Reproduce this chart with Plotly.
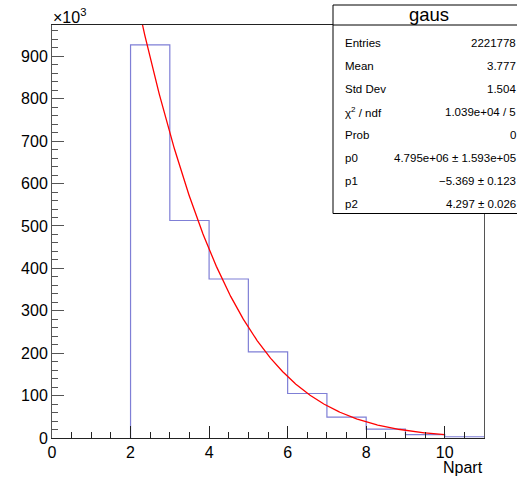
import numpy as np
import plotly.graph_objects as go

# Npart histogram: bin edges and counts (in units of 10^3)
bin_edges = [2, 3, 4, 5, 6, 7, 8, 9, 10, 11]
counts_k = [927, 513, 375, 203, 105, 49, 21, 8, 3]

# Gaussian fit parameters (fit range 2..10)
p0 = 4.795e6
p1 = -5.369
p2 = 4.297
fit_range = [2.0, 10.0]

# Statistics box rows
stat_labels = ["Entries", "Mean", "Std Dev", "χ<sup>2</sup> / ndf", "Prob", "p0", "p1", "p2"]
stat_values = ["2221778", "3.777", "1.504", "1.039e+04 / 5", "0",
               "4.795e+06 ± 1.593e+05", "−5.369 ± 0.123", "4.297 ± 0.026"]

x_ticks = [0, 2, 4, 6, 8, 10]
y_ticks = [0, 100, 200, 300, 400, 500, 600, 700, 800, 900]

FONT = "Liberation Sans, Arial, Helvetica, sans-serif"

# step outline of the histogram
hx = [bin_edges[0]] + bin_edges
hy = [0] + counts_k + [counts_k[-1]]

fx = np.linspace(fit_range[0], fit_range[1], 400)
fy = p0 * np.exp(-0.5 * ((fx - p1) / p2) ** 2) / 1e3

fig = go.Figure()
fig.add_trace(go.Scatter(x=hx, y=hy, mode="lines", line=dict(color="#7f7fd6", width=1.2, shape="hv"),
                         hoverinfo="skip"))
fig.add_trace(go.Scatter(x=fx, y=fy, mode="lines", line=dict(color="#ff0000", width=1.3),
                         hoverinfo="skip"))

# plot area geometry in pixels
L, R, T, B = 52, 484, 25, 438
W, H = 517, 479


def px_x(p):
    return (p - L) / (R - L)


def px_y(p):
    return (B - p) / (B - T)


fig.update_layout(
    width=W, height=H,
    margin=dict(l=L, r=W - R, t=T, b=H - B),
    paper_bgcolor="white", plot_bgcolor="white",
    showlegend=False,
    font=dict(family=FONT, color="black", size=16),
    xaxis=dict(range=[0, 11], tickvals=x_ticks, ticks="inside", ticklen=12, tickwidth=1,
               tickcolor="#222", showgrid=False, zeroline=False, showline=True,
               linecolor="#222", linewidth=1, mirror=True,
               minor=dict(dtick=0.5, ticks="inside", ticklen=6, tickcolor="#222"),
               tickfont=dict(size=16, family=FONT)),
    yaxis=dict(range=[0, 974], tickvals=y_ticks, ticks="inside", ticklen=12, tickwidth=1,
               tickcolor="#555", showgrid=False, zeroline=False, showline=True,
               linecolor="#555", linewidth=1, mirror=True,
               minor=dict(dtick=20, ticks="inside", ticklen=6, tickcolor="#555"),
               tickfont=dict(size=16, family=FONT)),
)

# statistics box
box_l, box_r, box_t, box_b = 333, 530, 5, 213.5
fig.add_shape(type="rect", xref="paper", yref="paper",
              x0=px_x(box_l), x1=px_x(box_r), y0=px_y(box_b), y1=px_y(box_t),
              line=dict(color="black", width=1), fillcolor="white", layer="above")
fig.add_shape(type="line", xref="paper", yref="paper",
              x0=px_x(box_l), x1=px_x(box_r), y0=px_y(25), y1=px_y(25),
              line=dict(color="black", width=1), layer="above")

annotations = [
    dict(text="gaus", x=px_x(429), y=px_y(15), xanchor="center", yanchor="middle",
         font=dict(size=18.5)),
    dict(text="×10<sup>3</sup>", x=px_x(51), y=px_y(16), xanchor="left", yanchor="middle",
         font=dict(size=16)),
    dict(text="Npart", x=px_x(485), y=px_y(467), xanchor="right", yanchor="middle",
         font=dict(size=16)),
]
row_y0, row_dy = 43, 23.0
for i, (lab, val) in enumerate(zip(stat_labels, stat_values)):
    yy = px_y(row_y0 + i * row_dy)
    annotations.append(dict(text=lab, x=px_x(343), y=yy, xanchor="left", yanchor="middle",
                            font=dict(size=11.5)))
    annotations.append(dict(text=val, x=px_x(518), y=yy, xanchor="right", yanchor="middle",
                            font=dict(size=11.5)))
for a in annotations:
    a.update(xref="paper", yref="paper", showarrow=False)
fig.update_layout(annotations=annotations)

fig.write_html("out.html")
